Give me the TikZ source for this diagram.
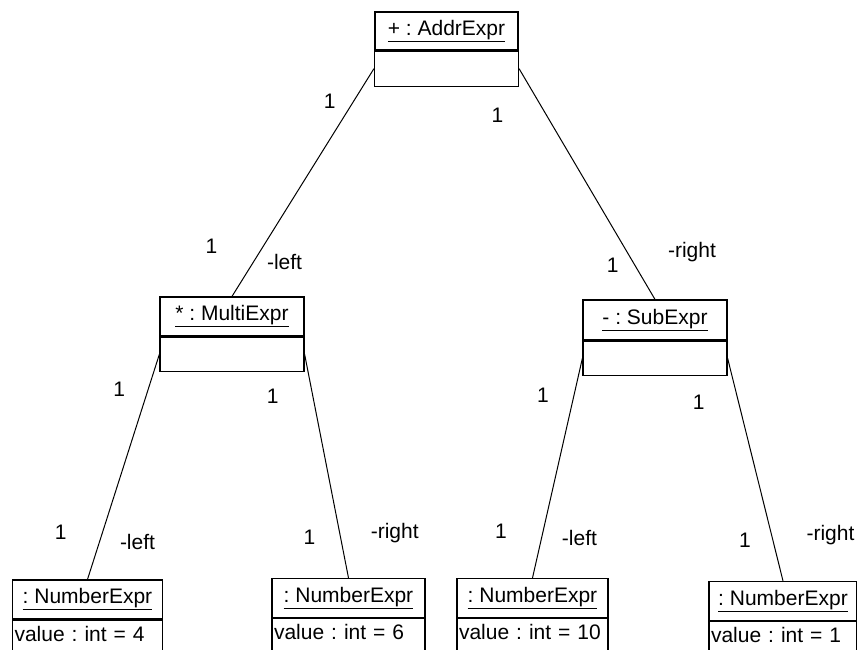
\documentclass[tikz,border=0pt]{standalone}
\usepackage{fontspec}
\setmainfont{Liberation Sans}
\usetikzlibrary{positioning}
\frenchspacing

\tikzstyle{objhead} = [rectangle, draw=black, line width=1.2pt, minimum width=144pt, minimum height=39pt, inner sep=1pt]
\tikzstyle{objbody} = [rectangle, draw=black, line width=1.2pt, minimum width=144pt, minimum height=34pt, inner sep=0pt]
\tikzstyle{valhead} = [objhead, minimum width=150pt]
\tikzstyle{valbody} = [rectangle, draw=black, line width=1.2pt, text width=146pt, align=left, inner xsep=2pt, inner ysep=2pt, text height=19pt, text depth=20pt]
\tikzstyle{link} = [line width=1pt]
\tikzstyle{lbl} = [inner sep=0pt]

\begin{document}
\begin{tikzpicture}[x=1pt, y=-1pt, font=\fontsize{21}{25}\selectfont]
  \clip (0,0) rectangle (857,650);

  \node (addr) [objhead, minimum width=143pt, minimum height=38pt] at (446.5,31) {\underline{+ : AddrExpr}};
  \node (addr_attr) [objbody, below=0pt of addr, minimum height=35pt] {};
  \node (multi) [objhead] at (232,316.5) {\underline{* : MultiExpr}};
  \node (multi_attr) [objbody, below=0pt of multi] {};
  \node (sub) [objhead, minimum height=40pt] at (655,320) {\underline{- : SubExpr}};
  \node (sub_attr) [objbody, below=0pt of sub] {};

  \node (num1) [valhead] at (87.5,599.5) {\underline{: NumberExpr}};
  \node (num1_attr) [valbody, below=0pt of num1] {value : int = 4};
  \node (num2) [valhead, minimum width=153pt] at (348.5,598) {\underline{: NumberExpr}};
  \node (num2_attr) [valbody, text width=149pt, below=0pt of num2] {value : int = 6};
  \node (num3) [valhead, minimum width=151pt] at (532.5,598) {\underline{: NumberExpr}};
  \node (num3_attr) [valbody, text width=147pt, below=0pt of num3] {value : int = 10};
  \node (num4) [valhead, minimum width=148pt] at (783,601) {\underline{: NumberExpr}};
  \node (num4_attr) [valbody, text width=144pt, below=0pt of num4] {value : int = 1};

  \draw [link] (addr_attr.west) -- node [lbl, pos=0.143, xshift=-24pt] {1} node [lbl, pos=0.779, xshift=-52pt] {1} node [lbl, pos=0.848, xshift=31pt] {-left} (multi.north);
  \draw [link] (addr_attr.east) -- node [lbl, pos=0.202, xshift=-49pt] {1} node [lbl, pos=0.850, xshift=-22pt] {1} node [lbl, pos=0.794, xshift=65pt] {-right} (sub.north);
  \draw [link] (multi_attr.west) -- node [lbl, pos=0.154, xshift=-29pt] {1} node [lbl, pos=0.789, xshift=-42pt] {1} node [lbl, pos=0.833, xshift=38pt] {-left} (num1.north);
  \draw [link] (multi_attr.east) -- node [lbl, pos=0.186, xshift=-40pt] {1} node [lbl, pos=0.819, xshift=-31pt] {1} node [lbl, pos=0.801, xshift=55pt] {-right} (num2.north);
  \draw [link] (sub_attr.west) -- node [lbl, pos=0.167, xshift=-31pt] {1} node [lbl, pos=0.788, xshift=-42pt] {1} node [lbl, pos=0.820, xshift=38pt] {-left} (num3.north);
  \draw [link] (sub_attr.east) -- node [lbl, pos=0.199, xshift=-40pt] {1} node [lbl, pos=0.819, xshift=-28pt] {1} node [lbl, pos=0.792, xshift=59pt] {-right} (num4.north);
\end{tikzpicture}
\end{document}
